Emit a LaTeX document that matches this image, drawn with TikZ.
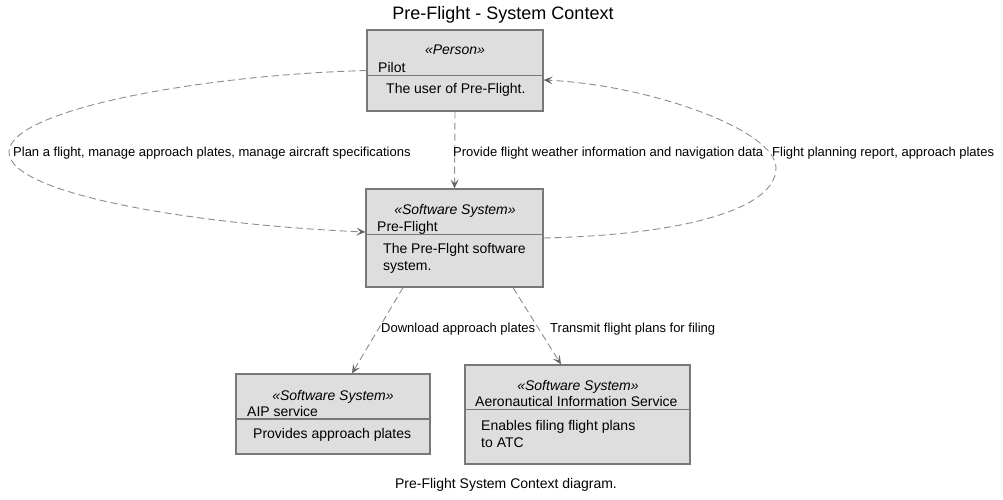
\documentclass[tikz,border=0pt]{standalone}
\usepackage{fontspec}
\setmainfont{Liberation Sans}
\usetikzlibrary{arrows.meta}

\begin{document}
\begin{tikzpicture}[x=1pt, y=-1pt,
	box/.style={draw=\boxLine, fill=\boxFill, line width=1.2pt, rectangle, inner sep=0pt},
	divider/.style={draw=\boxLine, line width=1.2pt},
	stereo/.style={font=\fontsize{14}{16}\selectfont\itshape, anchor=base, inner sep=0pt},
	boxtext/.style={font=\fontsize{14}{16}\selectfont, anchor=base west, inner sep=0pt},
	rel/.style={draw=\relLine, line width=0.9pt, dash pattern=on 7pt off 4pt,
		-{Stealth[length=9pt, width=8pt, inset=4pt, color=\tipColor]}},
	rlabel/.style={font=\fontsize{13}{15}\selectfont, anchor=base west, inner sep=0pt}
	]
	
	% ---- Adjustable colors ----
	\def\boxFill{black!13}
	\def\boxLine{black!53}
	\def\relLine{black!45}
	\def\tipColor{black!60}
	
	\useasboundingbox (0,0) rectangle (1003,500);
	
	% ---- Title and caption ----
	\node[font=\fontsize{18}{20}\selectfont, anchor=base, inner sep=0pt] (title) at (503,19.5) {Pre-Flight - System Context};
	\node[font=\fontsize{14}{16}\selectfont, anchor=base, inner sep=0pt] (caption) at (506,488) {Pre-Flight System Context diagram.};
	
	% ---- Boxes (center x / center y / width / height / name / divider y) ----
	\foreach \cx/\cy/\w/\h/\name/\div in {
		455/70.5/176/81/pilot/75.5,
		454.5/238/177/98/pf/234.5,
		333/414/194/80/aip/419,
		577.5/414.5/225/99/ais/409.5
	}
	{
		\node[box, minimum width=\w pt, minimum height=\h pt] (\name) at (\cx,\cy) {};
		\draw[divider] (\name.west |- 0,\div) -- (\name.east |- 0,\div);
	}
	
	% ---- Box texts ----
	\node[stereo] (pilotStereo) at (455,55) {«Person»};
	\node[boxtext] (pilotName) at (378,72.5) {Pilot};
	\node[boxtext] (pilotDesc) at (386,94) {The user of Pre-Flight.};
	
	\node[stereo] (pfStereo) at (455,214) {«Software System»};
	\node[boxtext] (pfName) at (377,231.5) {Pre-Flight};
	\node[boxtext] (pfDescA) at (383,253) {The Pre-Flght software};
	\node[boxtext] (pfDescB) at (383,270) {system.};
	
	\node[stereo] (aipStereo) at (333,400) {«Software System»};
	\node[boxtext] (aipName) at (247,416) {AIP service};
	\node[boxtext] (aipDesc) at (253,438) {Provides approach plates};
	
	\node[stereo] (aisStereo) at (578,390) {«Software System»};
	\node[boxtext] (aisName) at (475,406.5) {Aeronautical Information Service};
	\node[boxtext] (aisDescA) at (481,430) {Enables filing flight plans};
	\node[boxtext] (aisDescB) at (481,447) {to ATC};
	
	% ---- Relations ----
	\coordinate (bendL) at (9,152);
	\coordinate (bendR) at (776,168);
	
	\draw[rel] (pilot.west) .. controls (200,75) and (9,110) .. (bendL)
		.. controls (9,195) and (200,225) .. ([yshift=6pt]pf.west);
	\draw[rel] (pilot.south) -- (pf.north);
	\draw[rel] (pf.east) .. controls (680,235) and (776,210) .. (bendR)
		.. controls (776,130) and (650,85) .. ([yshift=-9.5pt]pilot.east);
	\draw[rel] ([xshift=-51.5pt]pf.south) -- ([xshift=19pt]aip.north);
	\draw[rel] ([xshift=58.5pt]pf.south) -- ([xshift=-16.5pt]ais.north);
	
	% ---- Relation labels ----
	\node[rlabel] (lblPlan) at (13,156.7) {Plan a flight, manage approach plates, manage aircraft specifications};
	\node[rlabel] (lblProvide) at (453,156.7) {Provide flight weather information and navigation data};
	\node[rlabel] (lblReport) at (772,156.7) {Flight planning report, approach plates};
	\node[rlabel] (lblDownload) at (381,332.7) {Download approach plates};
	\node[rlabel] (lblTransmit) at (550,332.7) {Transmit flight plans for filing};
	
\end{tikzpicture}
\end{document}
